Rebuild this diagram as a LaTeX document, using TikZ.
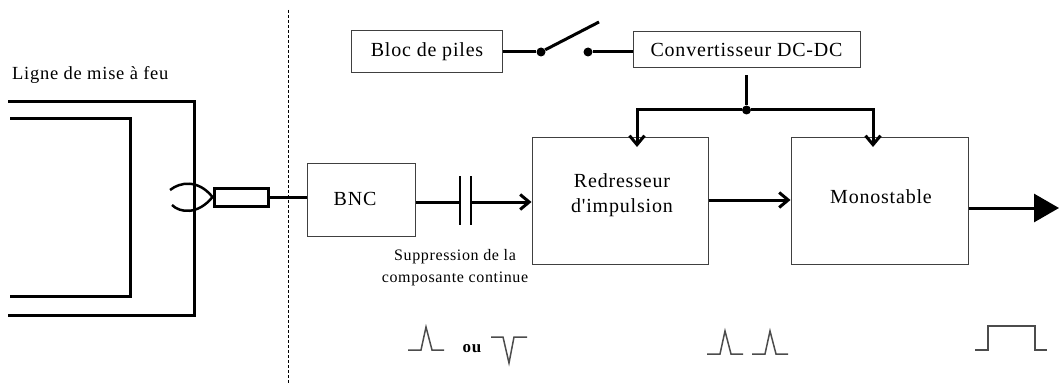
\documentclass[tikz,border=0pt]{standalone}
\usepackage{fontspec}
\setmainfont{Liberation Serif}[LetterSpace=4,Ligatures=TeXOff]
\usetikzlibrary{arrows.meta}
\tikzset{
  bloc/.style={draw=black!75,line width=1pt,inner sep=0pt,font=\fontsize{20}{25}\selectfont,align=center},
  legende/.style={inner sep=0pt,font=\fontsize{16}{22}\selectfont,align=center},
  liaison/.style={line width=3pt},
  fleche/.style={liaison,-{Straight Barb[length=9pt,width=15pt,line width=3pt]}},
  ligne/.style={line width=3pt,line join=miter},
  signal/.style={draw=black!70,line width=1.5pt},
  borne/.style={circle,fill=black,inner sep=0pt,minimum size=9pt}
}
\begin{document}
\begin{tikzpicture}[x=1pt,y=-1pt]
      \useasboundingbox (0,0) rectangle (1059,385);
      \def\pulsehaut{-- ++(13,0) -- ++(5,-23) -- ++(6,23) -- ++(12,0)}
      \def\pulsebas{-- ++(12,0) -- ++(6,26) -- ++(5,-26) -- ++(13,0)}
      \draw[densely dashed,line width=1pt] (288,10) -- (288,385);
      % ligne de mise a feu
      \node[legende,font=\fontsize{18.5}{23}\selectfont,anchor=west] (titre) at (12,75) {Ligne de mise à feu};
      \draw[ligne] (8,102) -- (194,102) -- (194,315) -- (8,315);
      \draw[ligne] (10,119) -- (130,119) -- (130,296) -- (10,296);
      \node[draw,line width=3pt,minimum width=54pt,minimum height=18pt,inner sep=0pt] (prise) at (241,197) {};
      \draw[line width=2.5pt] (170,190) .. controls (180,182) and (198,179) .. (prise.west) .. controls (198,215) and (180,213) .. (172,205);
      % blocs
      \node[bloc,minimum width=151pt,minimum height=42pt] (piles) at (427,52) {Bloc de piles};
      \node[bloc,minimum width=227pt,minimum height=36pt] (conv) at (746.5,50) {Convertisseur DC-DC};
      \node[bloc,minimum width=108pt,minimum height=73pt] (bnc) at (361,199.5) {};
      \node[bloc,draw=none] (bnctxt) at (355,199) {BNC};
      \node[bloc,minimum width=176pt,minimum height=127pt] (redr) at (620,200.5) {};
      \node[bloc,draw=none] (redrtxt) at (622,195.5) {Redresseur\\d'impulsion};
      \node[bloc,minimum width=177pt,minimum height=127pt] (mono) at (879.5,200.5) {};
      \node[bloc,draw=none] (monotxt) at (881,197) {Monostable};
      \node[legende] (suppr) at (455,267.5) {Suppression de la\\composante continue};
      % interrupteur
      \node[borne] (ba) at (541,52) {};
      \node[borne] (bb) at (588,52) {};
      \coordinate (levier) at (599,22);
      \draw[liaison] (piles.east) -- (ba);
      \draw[liaison] (ba) -- (levier);
      \draw[liaison] (bb) -- (conv.west |- bb);
      % alimentation
      \node[borne] (jonction) at (conv.south |- 0,110) {};
      \draw[liaison] ([yshift=-7pt]conv.south) -- (jonction);
      \draw[fleche] (jonction) -- (637,110) -- (637,147);
      \draw[fleche] (jonction) -- (873,110) -- (873,147);
      % chaine de mesure
      \draw[liaison] (prise.east) -- (bnc.west |- prise.east);
      \coordinate (capa) at (460,202);
      \coordinate (capb) at (471,202);
      \draw[line width=1.2pt] (460,176) -- (460,225);
      \draw[line width=1.2pt] (471,176) -- (471,225);
      \draw[liaison] (bnc.east |- capa) -- (capa);
      \draw[fleche] (capb) -- (redr.west |- capb);
      \coordinate (sortie) at (1059,208);
      \draw[fleche] (redr.east |- 0,200) -- (mono.west |- 0,200);
      \draw[line width=3pt,-{Triangle[length=25pt,width=28pt]}] (mono.east |- sortie) -- (sortie);
      % signaux
      \draw[signal] (408,350) \pulsehaut;
      \node[legende,font=\bfseries\fontsize{17}{20}\selectfont] (ou) at (472,349) {ou};
      \draw[signal] (491,337) \pulsebas;
      \draw[signal] (707,354) \pulsehaut;
      \draw[signal] (752,354) \pulsehaut;
      \draw[signal] (975,350) -- ++(13,0) -- ++(0,-24) -- ++(47,0) -- ++(0,24) -- ++(12,0);
    \end{tikzpicture}
\end{document}
